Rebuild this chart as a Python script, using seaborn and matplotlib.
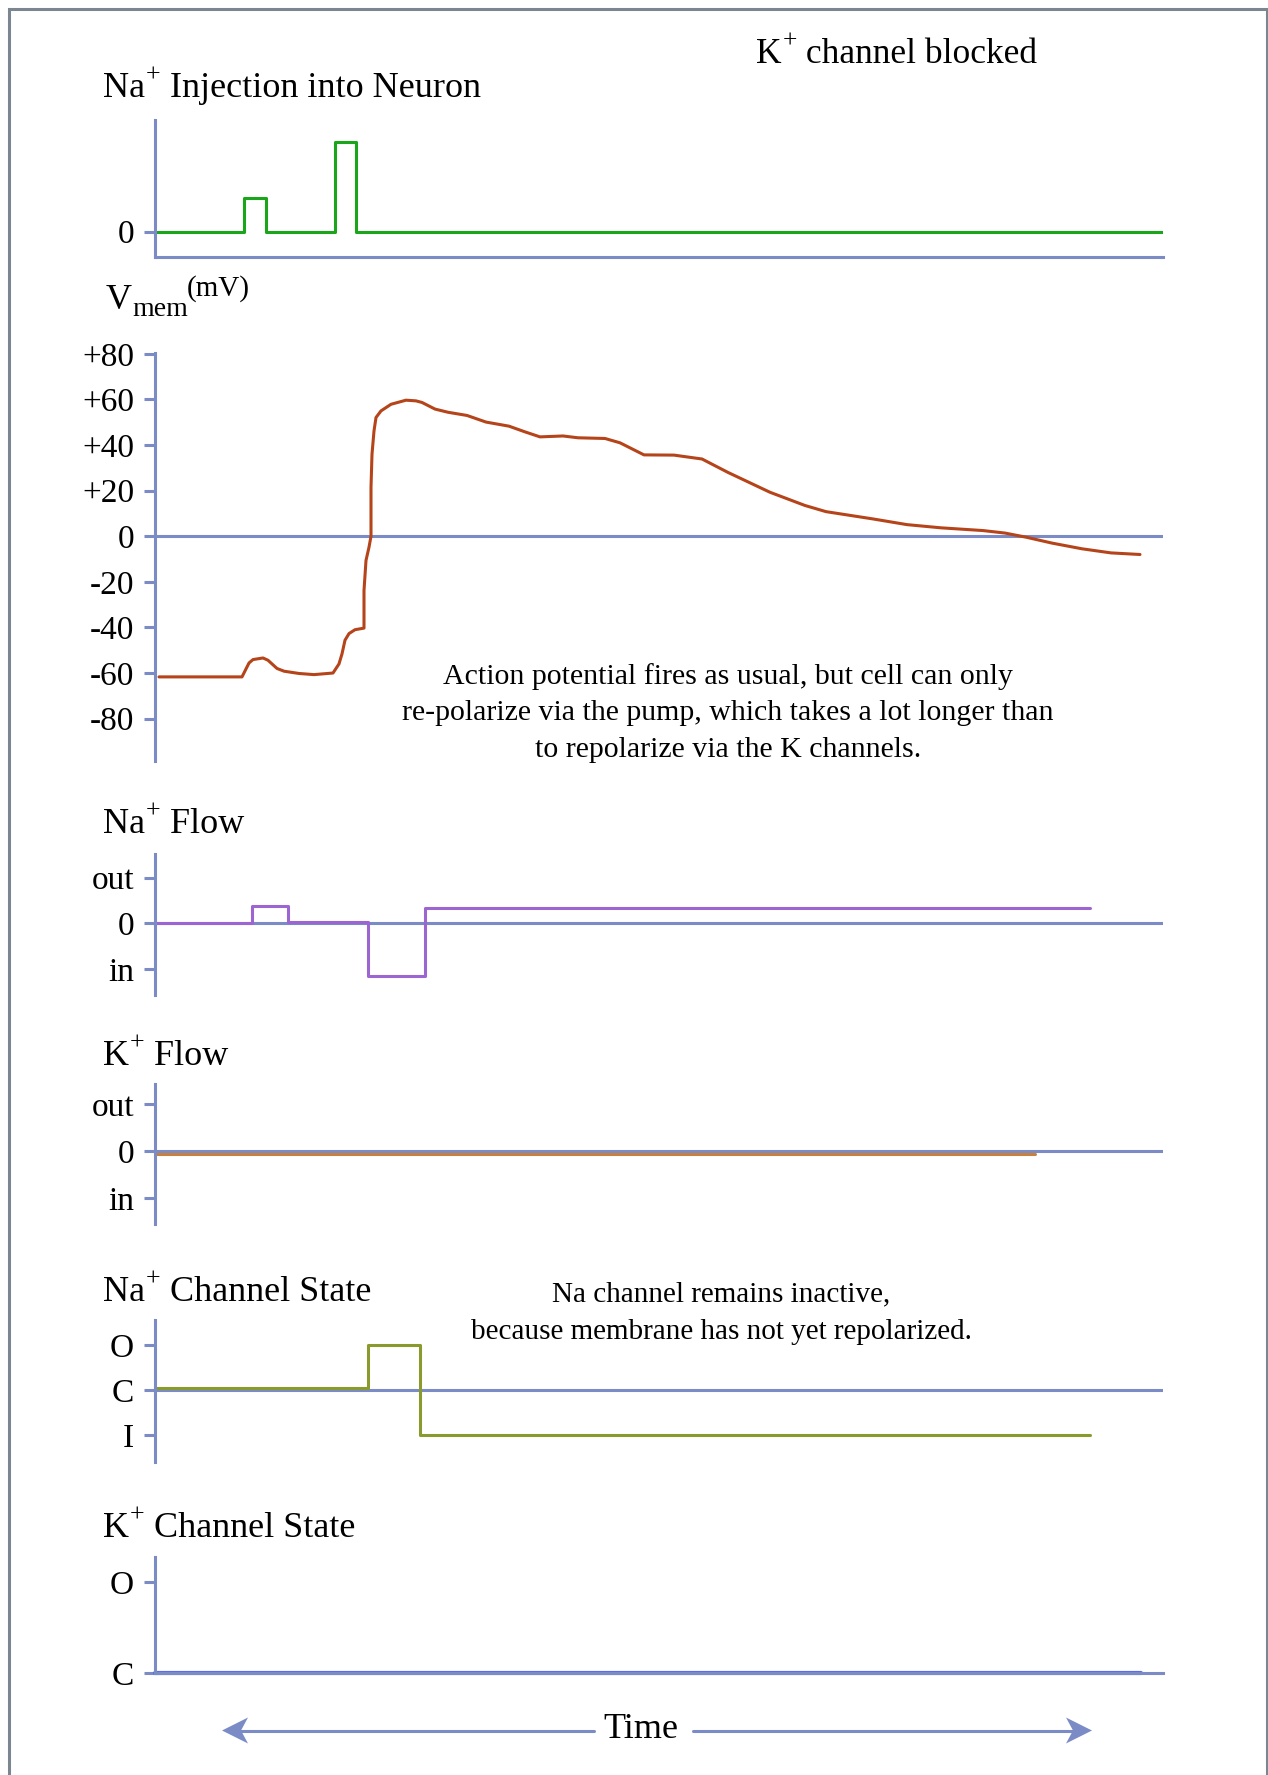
import matplotlib.pyplot as plt
import matplotlib.patches as mpatches
import seaborn as sns
import pandas as pd
import numpy as np

# Time axis runs 0..1008 (arbitrary units)
t_end = 1008

# Na+ injection (step, arbitrary units)
inj_t = [0, 89, 111, 180, 201, 1008]
inj_v = [0, 1.0, 0, 2.68, 0, 0]

# Membrane potential (mV)
vm_t = [4, 87, 94, 98, 108, 113, 122, 129, 144, 159, 178, 184, 187, 190, 194, 200, 209,
        209, 211, 214, 216, 216, 217, 219, 221, 226, 236, 251, 261, 267, 280, 293, 312,
        331, 354, 370, 385, 408, 423, 450, 465, 489, 519, 542, 547, 573, 615, 650, 671,
        718, 752, 786, 828, 850, 871, 897, 927, 956, 985]
vm_v = [-61.7, -61.7, -55.6, -54.1, -53.4, -54.4, -58.0, -59.2, -60.2, -60.7, -60.0, -56.0,
        -51.6, -45.6, -42.7, -41.0, -40.3, -23.8, -10.6, -4.8, 0.0, 21.4, 36.0, 46.2, 52.1,
        55.0, 57.9, 59.7, 59.4, 58.7, 55.8, 54.4, 53.0, 50.1, 48.3, 45.8, 43.6, 44.0, 43.2,
        42.9, 41.0, 35.7, 35.6, 34.2, 33.9, 28.0, 19.3, 13.5, 10.8, 7.6, 5.1, 3.7, 2.5, 1.4,
        -0.4, -3.0, -5.5, -7.3, -8.0]
vm_ticks = [80, 60, 40, 20, 0, -20, -40, -60, -80]
vm_labels = ['+80', '+60', '+40', '+20', '0', '-20', '-40', '-60', '-80']

# Na+ flow (out = 1, in = -1)
naf_t = [0, 97, 133, 213, 270, 935]
naf_v = [0, 0.38, 0.035, -1.15, 0.33, 0.33]

# K+ flow
kf_t = [0, 880]
kf_v = [-0.06, -0.06]

# Na+ channel state (O = 1, C = 0, I = -1)
nas_t = [0, 213, 265, 935]
nas_v = [0.06, 1.0, -1.0, -1.0]

# K+ channel state
ks_t = [0, 986]
ks_v = [0, 0]

flow_ticks = [1, 0, -1]
flow_labels = ['out', '0', 'in']
state_ticks = [1, 0, -1]
state_labels = ['O', 'C', 'I']

AX_BLUE = '#7a8bc6'

sns.set_style('white')
plt.rcParams['font.family'] = ['Liberation Serif', 'DejaVu Serif']
plt.rcParams['text.color'] = 'black'

W, H = 1268, 1775
fig = plt.figure(figsize=(W / 100, H / 100), dpi=100)
renderer = fig.canvas.get_renderer()


def fx(px):
    return px / W


def fy(py):
    return 1 - py / H


def panel(top, bottom, ylim, ticks, labels, bottom_spine=False):
    ax = fig.add_axes([fx(155), fy(bottom), (1163 - 155) / W, (bottom - top) / H])
    ax.set_xlim(0, t_end)
    ax.set_ylim(*ylim)
    for s in ['top', 'right']:
        ax.spines[s].set_visible(False)
    ax.spines['bottom'].set_visible(bottom_spine)
    ax.spines['left'].set_color(AX_BLUE)
    ax.spines['left'].set_linewidth(2.2)
    ax.spines['bottom'].set_color(AX_BLUE)
    ax.spines['bottom'].set_linewidth(2.2)
    ax.set_xticks([])
    ax.set_yticks(ticks)
    ax.set_yticklabels(labels)
    ax.tick_params(axis='y', left=True, length=8, width=2.2, color=AX_BLUE,
                   labelcolor='black', labelsize=24, pad=7)
    ax.set_xlabel('')
    ax.set_ylabel('')
    ax.patch.set_alpha(0)
    return ax


def ion_title(x, y, ion, rest, size=26):
    # ion name, raised "+" and the rest of the title laid out one after another
    t = fig.text(fx(x), fy(y), ion, fontsize=size, va='baseline')
    cur = x + t.get_window_extent(renderer).width + 1
    p = fig.text(fx(cur), fy(y - 15), '+', fontsize=size * 0.72, va='baseline')
    cur += p.get_window_extent(renderer).width
    fig.text(fx(cur), fy(y), ' ' + rest, fontsize=size, va='baseline')


def steps(ax, tt, vv, color, lw=2.2, clip=True):
    df = pd.DataFrame({'t': tt, 'v': vv})
    sns.lineplot(data=df, x='t', y='v', ax=ax, color=color, lw=lw, sort=False,
                 estimator=None, drawstyle='steps-post', clip_on=clip)
    ax.set_xlabel('')
    ax.set_ylabel('')


def poly(points, color):
    pts = [(fx(px), fy(py)) for px, py in points]
    fig.patches.append(mpatches.Polygon(pts, closed=True, transform=fig.transFigure,
                                        facecolor=color, edgecolor='none'))


def hline(x0, x1, y, color, lw=2):
    fig.add_artist(plt.Line2D([fx(x0), fx(x1)], [fy(y), fy(y)], transform=fig.transFigure,
                              color=color, lw=lw))


# frame
fig.patches.append(mpatches.Rectangle((fx(8.5), fy(1800)), (1266.5 - 8.5) / W, (1800 - 8.5) / H,
                                      transform=fig.transFigure, fill=False,
                                      edgecolor='#7b8691', lw=2.2))

ion_title(756, 63, 'K', 'channel blocked', size=25.5)

# Panel 1: Na+ injection
ax1 = panel(120, 257, (-0.76, 3.34), [0], ['0'], bottom_spine=True)
steps(ax1, inj_t, inj_v, '#1aa51a')
ion_title(103, 97, 'Na', 'Injection into Neuron')

# Panel 2: membrane potential
ax2 = panel(353, 761, (-98.6, 80.4), vm_ticks, vm_labels)
ax2.axhline(0, color=AX_BLUE, lw=2.2, zorder=1)
vm_df = pd.DataFrame({'t': vm_t, 'mV': vm_v})
sns.lineplot(data=vm_df, x='t', y='mV', ax=ax2, color='#b5441a', lw=2.2,
             sort=False, estimator=None)
ax2.set_xlabel('')
ax2.set_ylabel('')
fig.text(fx(106), fy(309), 'V', fontsize=26, va='baseline')
fig.text(fx(132), fy(316), 'mem', fontsize=20, va='baseline')
fig.text(fx(187), fy(296), '(mV)', fontsize=21, va='baseline')
fig.text(fx(728), fy(713), 'Action potential fires as usual, but cell can only\n'
         're-polarize via the pump, which takes a lot longer than\n'
         'to repolarize via the K channels.',
         ha='center', va='center', fontsize=21.5, linespacing=1.52, multialignment='center')

# Panel 3: Na+ flow
ax3 = panel(854, 995, (-1.57, 1.52), flow_ticks, flow_labels)
ax3.axhline(0, color=AX_BLUE, lw=2.2, zorder=1)
steps(ax3, naf_t, naf_v, '#9b66d1')
ion_title(103, 833, 'Na', 'Flow')

# Panel 4: K+ flow
ax4 = panel(1084, 1224, (-1.55, 1.43), flow_ticks, flow_labels)
ax4.axhline(0, color=AX_BLUE, lw=2.2, zorder=1)
steps(ax4, kf_t, kf_v, '#c8803e')
ion_title(103, 1065, 'K', 'Flow')

# Panel 5: Na+ channel state
ax5 = panel(1320, 1462, (-1.59, 1.56), state_ticks, state_labels)
ax5.axhline(0, color=AX_BLUE, lw=2.2, zorder=1)
steps(ax5, nas_t, nas_v, '#8a9a2c')
ion_title(103, 1301, 'Na', 'Channel State')
fig.text(fx(721), fy(1313), 'Na channel remains inactive,\n'
         'because membrane has not yet repolarized.',
         ha='center', va='center', fontsize=21, linespacing=1.6,
         multialignment='center')

# Panel 6: K+ channel state
ax6 = panel(1557, 1673, (0, 1.28), [1, 0], ['O', 'C'], bottom_spine=True)
steps(ax6, ks_t, ks_v, '#5a6cf0', lw=3, clip=False)
ion_title(103, 1537, 'K', 'Channel State')

# Time arrow
fig.text(fx(641), fy(1738), 'Time', fontsize=26, ha='center', va='baseline')
hline(240, 594, 1730.5, AX_BLUE, lw=2.2)
hline(693, 1074, 1730.5, AX_BLUE, lw=2.2)
poly([(222, 1730.5), (248, 1717.5), (241, 1730.5), (248, 1743.5)], AX_BLUE)
poly([(1092, 1730.5), (1066, 1717.5), (1073, 1730.5), (1066, 1743.5)], AX_BLUE)

plt.savefig('out.png', dpi=100)
